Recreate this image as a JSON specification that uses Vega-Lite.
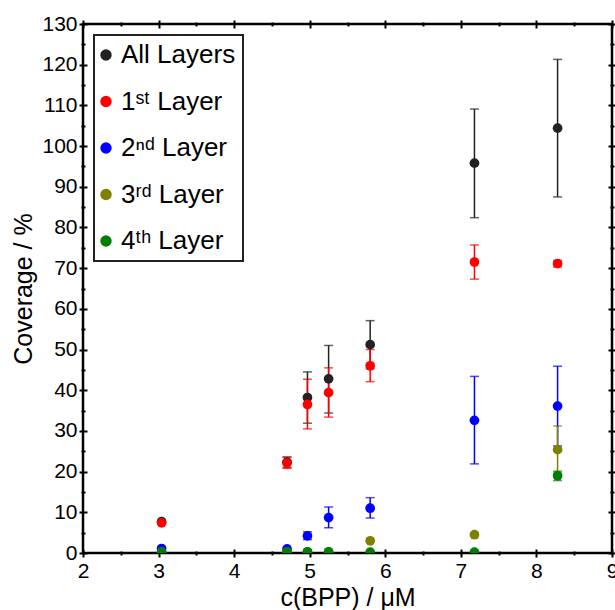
{
  "$schema": "https://vega.github.io/schema/vega-lite/v6.json",
  "autosize": "none",
  "width": 529,
  "height": 529,
  "padding": {"left": 83, "top": 24, "right": 3, "bottom": 57},
  "background": "white",
  "config": {
    "font": "Liberation Sans",
    "view": {"stroke": "black", "strokeWidth": 2.5},
    "axis": {
      "domain": false, "grid": false, "tickColor": "black", "tickWidth": 2,
      "labelColor": "black", "labelFont": "Liberation Sans", "labelFontSize": 21,
      "titleFont": "Liberation Sans", "titleFontSize": 25, "titleFontWeight": "normal", "titleColor": "black"
    },
    "legend": {
      "orient": "top-left", "offset": 11, "padding": 7, "rowPadding": 20.5,
      "strokeColor": "#222", "strokeWidth": 2, "fillColor": "white",
      "labelFont": "Liberation Sans", "labelFontSize": 26, "labelColor": "black",
      "symbolSize": 130, "symbolType": "circle", "labelOffset": 2, "symbolOffset": -8, "symbolStrokeWidth": 0
    }
  },
  "datasets": {
    "pts": [
      {"s": "All Layers", "x": 3.04, "y": 7.7},
      {"s": "All Layers", "x": 4.70, "y": 22.3, "lo": 21.0, "hi": 23.6},
      {"s": "All Layers", "x": 4.97, "y": 38.2, "lo": 31.9, "hi": 44.5},
      {"s": "All Layers", "x": 5.25, "y": 42.8, "lo": 34.4, "hi": 51.0},
      {"s": "All Layers", "x": 5.80, "y": 51.2, "lo": 45.3, "hi": 57.1},
      {"s": "All Layers", "x": 7.18, "y": 95.8, "lo": 82.4, "hi": 109.1},
      {"s": "All Layers", "x": 8.28, "y": 104.4, "lo": 87.5, "hi": 121.3},
      {"s": "1ˢᵗ Layer", "x": 3.04, "y": 7.4},
      {"s": "1ˢᵗ Layer", "x": 4.70, "y": 22.1, "lo": 20.8, "hi": 23.5},
      {"s": "1ˢᵗ Layer", "x": 4.97, "y": 36.5, "lo": 30.5, "hi": 42.7},
      {"s": "1ˢᵗ Layer", "x": 5.25, "y": 39.4, "lo": 33.4, "hi": 45.5},
      {"s": "1ˢᵗ Layer", "x": 5.80, "y": 46.0, "lo": 42.1, "hi": 50.0},
      {"s": "1ˢᵗ Layer", "x": 7.18, "y": 71.5, "lo": 67.3, "hi": 75.7},
      {"s": "1ˢᵗ Layer", "x": 8.28, "y": 71.1, "lo": 70.3, "hi": 71.9},
      {"s": "2ⁿᵈ Layer", "x": 3.04, "y": 1.1},
      {"s": "2ⁿᵈ Layer", "x": 4.70, "y": 1.0},
      {"s": "2ⁿᵈ Layer", "x": 4.97, "y": 4.2, "lo": 3.3, "hi": 5.2},
      {"s": "2ⁿᵈ Layer", "x": 5.25, "y": 8.7, "lo": 6.2, "hi": 11.3},
      {"s": "2ⁿᵈ Layer", "x": 5.80, "y": 11.0, "lo": 8.6, "hi": 13.6},
      {"s": "2ⁿᵈ Layer", "x": 7.18, "y": 32.6, "lo": 21.9, "hi": 43.4},
      {"s": "2ⁿᵈ Layer", "x": 8.28, "y": 36.1, "lo": 26.3, "hi": 45.9},
      {"s": "3ʳᵈ Layer", "x": 3.04, "y": 0.2},
      {"s": "3ʳᵈ Layer", "x": 4.70, "y": 0.2},
      {"s": "3ʳᵈ Layer", "x": 4.97, "y": 0.2},
      {"s": "3ʳᵈ Layer", "x": 5.25, "y": 0.2},
      {"s": "3ʳᵈ Layer", "x": 5.80, "y": 3.0},
      {"s": "3ʳᵈ Layer", "x": 7.18, "y": 4.5},
      {"s": "3ʳᵈ Layer", "x": 8.28, "y": 25.4, "lo": 19.6, "hi": 31.2},
      {"s": "4ᵗʰ Layer", "x": 3.04, "y": 0.2},
      {"s": "4ᵗʰ Layer", "x": 4.70, "y": 0.3},
      {"s": "4ᵗʰ Layer", "x": 4.97, "y": 0.3},
      {"s": "4ᵗʰ Layer", "x": 5.25, "y": 0.3},
      {"s": "4ᵗʰ Layer", "x": 5.80, "y": 0.2},
      {"s": "4ᵗʰ Layer", "x": 7.18, "y": 0.2},
      {"s": "4ᵗʰ Layer", "x": 8.28, "y": 19.0, "lo": 17.8, "hi": 20.1}
    ]
  },
  "data": {"name": "pts"},
  "resolve": {"axis": {"x": "independent", "y": "independent"}, "legend": {"color": "independent"}},
  "layer": [
    {
      "transform": [{"filter": "datum.lo != null"}],
      "mark": {"type": "errorbar", "ticks": true, "size": 9, "thickness": 1.5},
      "encoding": {
        "x": {"field": "x", "type": "quantitative", "axis": null, "scale": {"domain": [2, 9], "nice": false}},
        "y": {"field": "lo", "type": "quantitative", "axis": null, "scale": {"domain": [0, 130], "nice": false}},
        "y2": {"field": "hi"},
        "color": {"field": "s", "type": "nominal", "legend": null,
          "scale": {"domain": ["All Layers", "1ˢᵗ Layer", "2ⁿᵈ Layer", "3ʳᵈ Layer", "4ᵗʰ Layer"], "range": ["#222222", "#ff0000", "#0000ff", "#808000", "#008000"]}}
      }
    },
    {
      "mark": {"type": "point", "filled": true, "shape": "circle", "size": 95, "opacity": 1, "clip": true},
      "encoding": {
        "x": {"field": "x", "type": "quantitative", "title": "c(BPP) / μM",
          "scale": {"domain": [2, 9], "nice": false},
          "axis": {"orient": "bottom", "values": [2, 3, 4, 5, 6, 7, 8, 9], "tickSize": 8, "offset": -4, "labelPadding": 3, "titlePadding": 4, "labelFlush": false, "labelOverlap": false}},
        "y": {"field": "y", "type": "quantitative", "title": "Coverage / %",
          "scale": {"domain": [0, 130], "nice": false},
          "axis": {"orient": "left", "values": [0, 10, 20, 30, 40, 50, 60, 70, 80, 90, 100, 110, 120, 130], "tickSize": 8, "offset": -4, "labelPadding": 2, "titlePadding": 5, "labelFlush": false, "labelOverlap": false}},
        "color": {"field": "s", "type": "nominal", "title": null,
          "scale": {"domain": ["All Layers", "1ˢᵗ Layer", "2ⁿᵈ Layer", "3ʳᵈ Layer", "4ᵗʰ Layer"], "range": ["#000000", "#ff0000", "#0000ff", "#808000", "#008000"]}}
      }
    },
    {
      "mark": {"type": "point", "opacity": 0},
      "encoding": {
        "x": {"field": "x", "type": "quantitative", "title": null,
          "axis": {"orient": "top", "values": [2, 3, 4, 5, 6, 7, 8, 9], "tickSize": 8, "offset": -4, "labels": false}},
        "y": {"field": "y", "type": "quantitative", "title": null,
          "axis": {"orient": "right", "values": [0, 10, 20, 30, 40, 50, 60, 70, 80, 90, 100, 110, 120, 130], "tickSize": 8, "offset": -4, "labels": false}}
      }
    },
    {
      "mark": {"type": "point", "opacity": 0},
      "encoding": {
        "x": {"field": "x", "type": "quantitative", "title": null,
          "axis": {"orient": "bottom", "values": [2.5, 3.5, 4.5, 5.5, 6.5, 7.5, 8.5], "tickSize": 4, "offset": -2, "labels": false}},
        "y": {"field": "y", "type": "quantitative", "title": null,
          "axis": {"orient": "left", "values": [5, 15, 25, 35, 45, 55, 65, 75, 85, 95, 105, 115, 125], "tickSize": 4, "offset": -2, "labels": false}}
      }
    },
    {
      "mark": {"type": "point", "opacity": 0},
      "encoding": {
        "x": {"field": "x", "type": "quantitative", "title": null,
          "axis": {"orient": "top", "values": [2.5, 3.5, 4.5, 5.5, 6.5, 7.5, 8.5], "tickSize": 4, "offset": -2, "labels": false}},
        "y": {"field": "y", "type": "quantitative", "title": null,
          "axis": {"orient": "right", "values": [5, 15, 25, 35, 45, 55, 65, 75, 85, 95, 105, 115, 125], "tickSize": 4, "offset": -2, "labels": false}}
      }
    }
  ]
}
